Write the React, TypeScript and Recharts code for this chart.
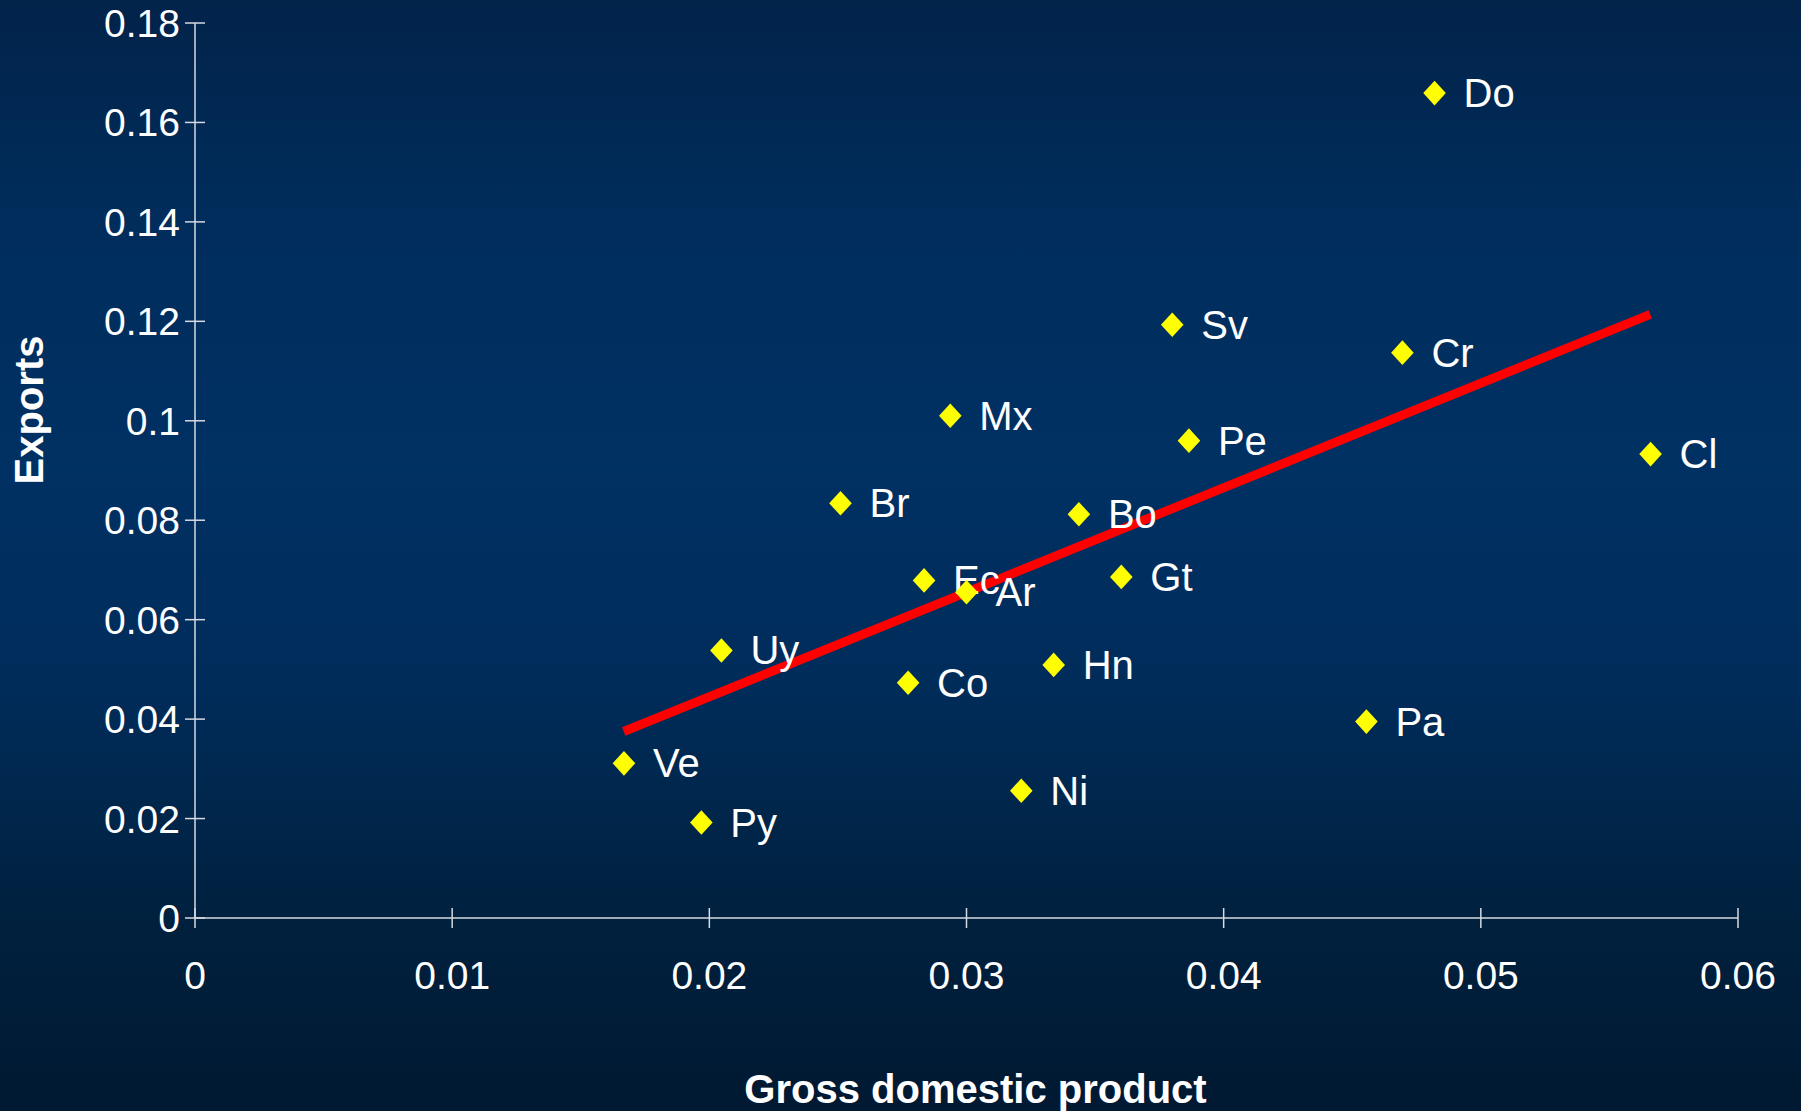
import { ScatterChart, Scatter, XAxis, YAxis } from "recharts";

// Country codes with GDP / exports coefficients
const codes = ["Do", "Sv", "Cr", "Mx", "Pe", "Cl", "Br", "Bo", "Ec", "Ar", "Gt", "Uy", "Co", "Hn", "Pa", "Ve", "Ni", "Py"];
const gdp = [0.0482, 0.038, 0.04695, 0.02937, 0.03865, 0.0566, 0.0251, 0.03437, 0.02835, 0.03, 0.03602, 0.02047, 0.02773, 0.03339, 0.04555, 0.01668, 0.03213, 0.01969];
const exportsVals = [0.1659, 0.1193, 0.1137, 0.101, 0.096, 0.0933, 0.0834, 0.0812, 0.0679, 0.0655, 0.0686, 0.0538, 0.0473, 0.0509, 0.0395, 0.0311, 0.0256, 0.0192];

// fitted line endpoints
const trendGdp = [0.01667, 0.05659];
const trendExports = [0.0375, 0.1214];

const xTicks = [0, 0.01, 0.02, 0.03, 0.04, 0.05, 0.06];
const yTicks = [0, 0.02, 0.04, 0.06, 0.08, 0.1, 0.12, 0.14, 0.16, 0.18];

const points = codes.map((code, i) => ({ code, gdp: gdp[i], exports: exportsVals[i] }));
const trend = trendGdp.map((g, i) => ({ gdp: g, exports: trendExports[i] }));

const FONT = '"Liberation Sans", Arial, sans-serif';
const AXIS = "#d6dae2";

const fmt = (v: number) => String(Number(v.toFixed(2)));

function YTick(props: any) {
  const { x, y, payload } = props;
  return (
    <g>
      <line x1={x - 10} x2={x + 10} y1={y} y2={y} stroke={AXIS} strokeWidth={1.5} />
      <text x={x - 15} y={y + 14} textAnchor="end" fill="#ffffff" fontSize={39} fontFamily={FONT}>
        {fmt(payload.value)}
      </text>
    </g>
  );
}

function XTick(props: any) {
  const { x, y, payload } = props;
  return (
    <g>
      <line x1={x} x2={x} y1={y - 10} y2={y + 10} stroke={AXIS} strokeWidth={1.5} />
      <text x={x} y={y + 71} textAnchor="middle" fill="#ffffff" fontSize={39} fontFamily={FONT}>
        {fmt(payload.value)}
      </text>
    </g>
  );
}

function Diamond(props: any) {
  const { cx, cy, payload } = props;
  return (
    <g>
      <polygon
        points={`${cx},${cy - 12.3} ${cx + 11.3},${cy} ${cx},${cy + 12.3} ${cx - 11.3},${cy}`}
        fill="#ffff00"
      />
      <text x={cx + 29} y={cy + 14} fill="#ffffff" fontSize={40} fontFamily={FONT}>
        {payload.code}
      </text>
    </g>
  );
}

export default function App() {
  return (
    <div
      style={{
        position: "absolute",
        left: 0,
        top: 0,
        width: 1801,
        height: 1111,
        background:
          "linear-gradient(to bottom, #02234a 0%, #002d5c 20%, #003163 42%, #002c5a 62%, #00213f 82%, #011932 100%)",
      }}
    >
      <ScatterChart width={1801} height={1111} margin={{ top: 23, right: 63, bottom: 93, left: 75 }}>
        <XAxis
          type="number"
          dataKey="gdp"
          domain={[0, 0.06]}
          ticks={xTicks}
          interval={0}
          height={100}
          tickSize={0}
          tickMargin={0}
          tickLine={false}
          axisLine={{ stroke: AXIS, strokeWidth: 1.5 }}
          tick={<XTick />}
          label={{
            content: (p: any) => (
              <text
                x={p.viewBox.x + p.viewBox.width / 2 + 9}
                y={p.viewBox.y + 185}
                textAnchor="middle"
                fill="#ffffff"
                fontSize={40}
                fontWeight="bold"
                fontFamily={FONT}
              >
                Gross domestic product
              </text>
            ),
          }}
        />
        <YAxis
          type="number"
          dataKey="exports"
          domain={[0, 0.18]}
          ticks={yTicks}
          interval={0}
          width={120}
          tickSize={0}
          tickMargin={0}
          tickLine={false}
          axisLine={{ stroke: AXIS, strokeWidth: 1.5 }}
          tick={<YTick />}
          label={{
            content: () => (
              <text
                x={43}
                y={410}
                transform="rotate(-90, 43, 410)"
                textAnchor="middle"
                fill="#ffffff"
                fontSize={40}
                fontWeight="bold"
                fontFamily={FONT}
              >
                Exports
              </text>
            ),
          }}
        />
        <Scatter
          data={trend}
          line={{ stroke: "#ff0000", strokeWidth: 9 }}
          shape={() => <g />}
          isAnimationActive={false}
        />
        <Scatter data={points} shape={<Diamond />} isAnimationActive={false} />
      </ScatterChart>
    </div>
  );
}
